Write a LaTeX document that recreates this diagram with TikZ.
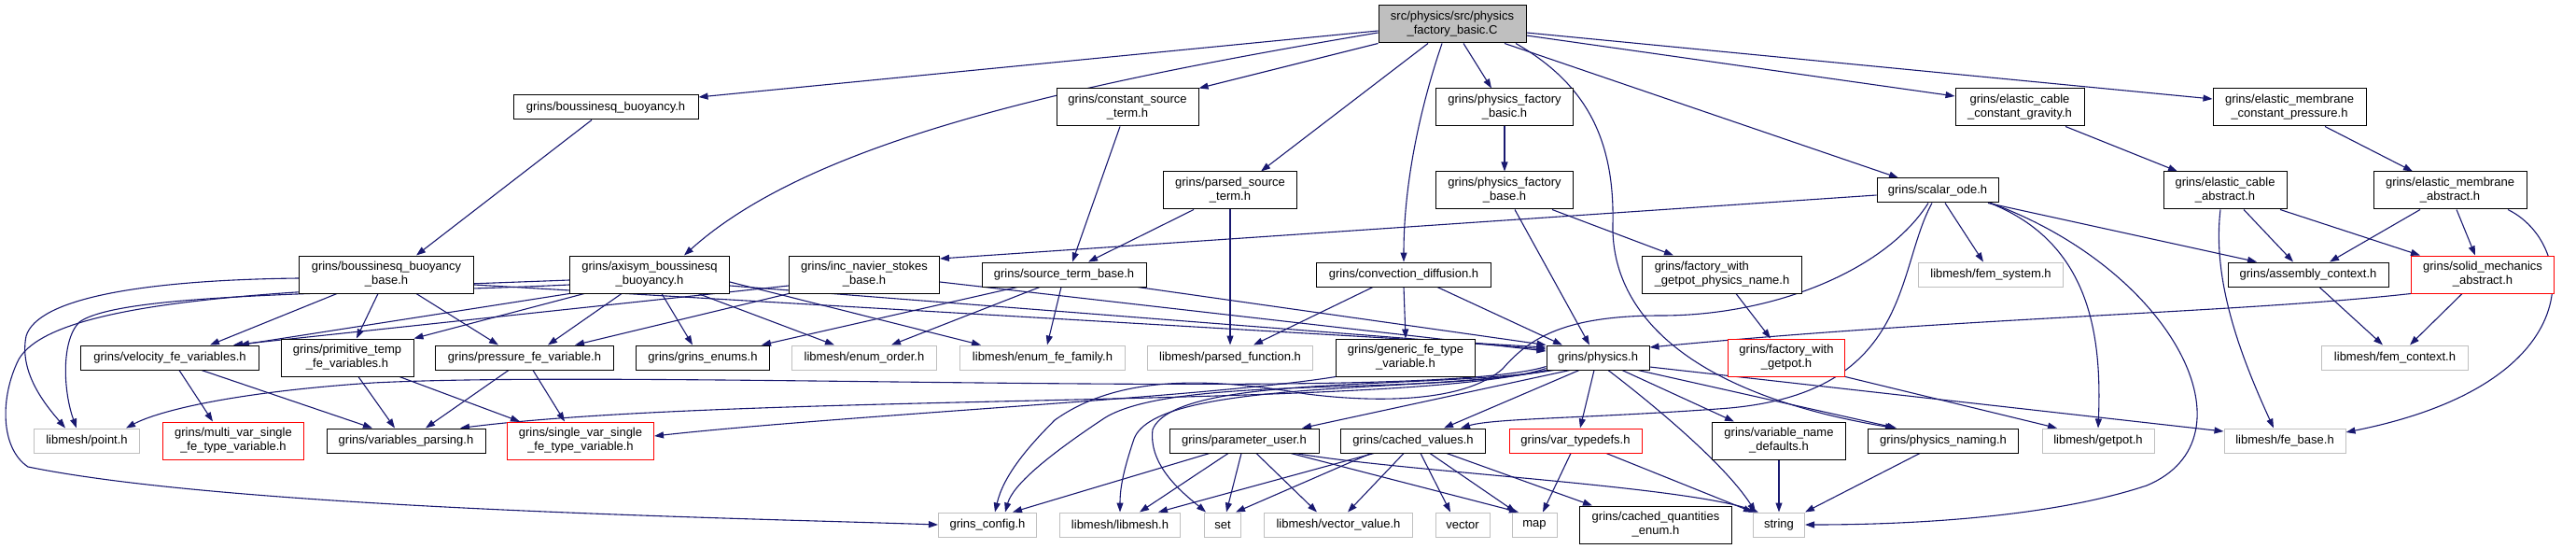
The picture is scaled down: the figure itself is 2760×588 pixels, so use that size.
\documentclass[tikz,border=0pt]{standalone}
\usepackage{fontspec}
\setmainfont{Liberation Sans}
\usetikzlibrary{arrows.meta}
\definecolor{edgeblue}{RGB}{25,25,112}
\definecolor{lightgrey}{RGB}{191,191,191}
\pgfdeclarelayer{behind}
\pgfsetlayers{behind,main}

\begin{document}
\begin{tikzpicture}[x=1pt, y=-1pt,
		file/.style={draw=black, line width=1pt, fill=white, inner sep=0pt, minimum height=26pt, align=center, font=\fontsize{13}{15}\selectfont},
		twoline/.style={minimum height=40pt},
		sys/.style={draw=lightgrey},
		missing/.style={draw=red},
		main/.style={fill=lightgrey},
		dep/.style={edgeblue, line width=1.1pt, -{Triangle[length=10pt, width=7pt]}}]
		\useasboundingbox (0,0) rectangle (2760,588);

		% root file
		\node[file, twoline, main, minimum width=158pt] (root) at (1556,26) {src/physics/src/physics\\\_factory\_basic.C};

		% first row
		\node[file, minimum width=198pt] (bb) at (649,115) {grins/boussinesq\_buoyancy.h};
		\node[file, twoline, minimum width=152pt] (cst) at (1208,115) {grins/constant\_source\\\_term.h};
		\node[file, twoline, minimum width=147pt] (pfbasic) at (1612,115) {grins/physics\_factory\\\_basic.h};
		\node[file, twoline, minimum width=138pt] (ecg) at (2164,115) {grins/elastic\_cable\\\_constant\_gravity.h};
		\node[file, twoline, minimum width=164pt] (emp) at (2453,115) {grins/elastic\_membrane\\\_constant\_pressure.h};

		% second row
		\node[file, twoline, minimum width=143pt] (pst) at (1318,204) {grins/parsed\_source\\\_term.h};
		\node[file, twoline, minimum width=147pt] (pfbase) at (1612,204) {grins/physics\_factory\\\_base.h};
		\node[file, minimum width=130pt] (sode) at (2076,204) {grins/scalar\_ode.h};
		\node[file, twoline, minimum width=132pt] (eca) at (2384,204) {grins/elastic\_cable\\\_abstract.h};
		\node[file, twoline, minimum width=164pt] (ema) at (2625,204) {grins/elastic\_membrane\\\_abstract.h};

		% third row
		\node[file, twoline, minimum width=187pt] (bbb) at (414,294) {grins/boussinesq\_buoyancy\\\_base.h};
		\node[file, twoline, minimum width=171pt] (abb) at (696,294) {grins/axisym\_boussinesq\\\_buoyancy.h};
		\node[file, twoline, minimum width=161pt] (insb) at (926,294) {grins/inc\_navier\_stokes\\\_base.h};
		\node[file, minimum width=176pt] (stb) at (1140,294) {grins/source\_term\_base.h};
		\node[file, minimum width=187pt] (cd) at (1504,294) {grins/convection\_diffusion.h};
		\node[file, twoline, align=left, minimum width=171pt] (fwgpn) at (1845,294) {grins/factory\_with\\\_getpot\_physics\_name.h};
		\node[file, sys, minimum width=155pt] (femsys) at (2133,294) {libmesh/fem\_system.h};
		\node[file, minimum width=172pt] (ac) at (2473,294) {grins/assembly\_context.h};
		\node[file, twoline, missing, minimum width=153pt] (sma) at (2660,294) {grins/solid\_mechanics\\\_abstract.h};

		% fourth row
		\node[file, minimum width=191pt] (vfv) at (182,383) {grins/velocity\_fe\_variables.h};
		\node[file, twoline, minimum width=142pt] (ptfv) at (372,383) {grins/primitive\_temp\\\_fe\_variables.h};
		\node[file, minimum width=191pt] (pfv) at (562,383) {grins/pressure\_fe\_variable.h};
		\node[file, minimum width=143pt] (ge) at (753,383) {grins/grins\_enums.h};
		\node[file, sys, minimum width=155pt] (eo) at (926,383) {libmesh/enum\_order.h};
		\node[file, sys, minimum width=177pt] (eff) at (1117,383) {libmesh/enum\_fe\_family.h};
		\node[file, sys, minimum width=177pt] (pf) at (1318,383) {libmesh/parsed\_function.h};
		\node[file, twoline, minimum width=149pt] (gfv) at (1506,383) {grins/generic\_fe\_type\\\_variable.h};
		\node[file, minimum width=110pt] (phys) at (1712,383) {grins/physics.h};
		\node[file, twoline, missing, minimum width=125pt] (fwg) at (1914,383) {grins/factory\_with\\\_getpot.h};
		\node[file, sys, minimum width=157pt] (femctx) at (2566,383) {libmesh/fem\_context.h};

		% fifth row
		\node[file, sys, minimum width=113pt] (point) at (93,472) {libmesh/point.h};
		\node[file, twoline, missing, minimum width=151pt] (mvs) at (250,472) {grins/multi\_var\_single\\\_fe\_type\_variable.h};
		\node[file, minimum width=170pt] (vp) at (435,472) {grins/variables\_parsing.h};
		\node[file, twoline, missing, minimum width=157pt] (svs) at (622,472) {grins/single\_var\_single\\\_fe\_type\_variable.h};
		\node[file, minimum width=160pt] (pu) at (1333,472) {grins/parameter\_user.h};
		\node[file, minimum width=155pt] (cv) at (1514,472) {grins/cached\_values.h};
		\node[file, missing, minimum width=142pt] (vt) at (1688,472) {grins/var\_typedefs.h};
		\node[file, twoline, minimum width=143pt] (vnd) at (1906,472) {grins/variable\_name\\\_defaults.h};
		\node[file, minimum width=161pt] (pn) at (2082,472) {grins/physics\_naming.h};
		\node[file, sys, minimum width=120pt] (getpot) at (2248,472) {libmesh/getpot.h};
		\node[file, sys, minimum width=130pt] (feb) at (2448,472) {libmesh/fe\_base.h};

		% bottom row
		\node[file, sys, minimum width=105pt] (gc) at (1058,562) {grins\_config.h};
		\node[file, sys, minimum width=129pt] (lm) at (1200,562) {libmesh/libmesh.h};
		\node[file, sys, minimum width=39pt] (set) at (1310,562) {set};
		\node[file, sys, minimum width=159pt] (vv) at (1434,562) {libmesh/vector\_value.h};
		\node[file, sys, minimum width=58pt] (vec) at (1567,562) {vector};
		\node[file, sys, minimum width=48pt] (map) at (1644,562) {map};
		\node[file, twoline, minimum width=163pt] (cqe) at (1774,562) {grins/cached\_quantities\\\_enum.h};
		\node[file, sys, minimum width=55pt] (str) at (1906,562) {string};

		\begin{pgfonlayer}{behind}
		% includes of the root file
		\draw[dep] ([yshift=-7pt]root.west) -- ([yshift=11pt]bb.east);
		\draw[dep] ([yshift=-9pt]root.west) .. controls (1150,90) and (870,150) .. ([xshift=37pt]abb.north);
		\draw[dep] (root.south west) -- (cst.north east);
		\draw[dep] ([xshift=-26pt]root.south) -- ([xshift=33pt]pst.north);
		\draw[dep] ([xshift=-11pt]root.south) .. controls (1520,120) and (1504,200) .. (cd.north);
		\draw[dep] ([xshift=12pt]root.south) -- ([xshift=-14pt]pfbasic.north);
		\draw[dep] ([xshift=68pt]root.south) .. controls (1700,90) and (1730,150) .. (1728,240) .. controls (1726,330) and (1800,420) .. ([xshift=-52pt]pn.north);
		\draw[dep] ([xshift=56pt]root.south) -- ([xshift=-42pt]sode.north);
		\draw[dep] ([yshift=-12pt]root.east) -- ([yshift=12pt]ecg.west);
		\draw[dep] ([yshift=-9pt]root.east) -- ([yshift=9pt]emp.west);

		% upper rows
		\draw[dep] ([xshift=-15pt]bb.south) -- ([xshift=32pt]bbb.north);
		\draw[dep] ([xshift=-8pt]cst.south) -- ([xshift=9pt]stb.north);
		\draw[dep] ([xshift=-39pt]pst.south) -- ([xshift=26pt]stb.north);
		\draw[dep] (pst) -- (pf);
		\draw[dep] (pfbasic) -- (pfbase);
		\draw[dep] ([xshift=11pt]pfbase.south) -- ([xshift=-9pt]phys.north);
		\draw[dep] ([xshift=51pt]pfbase.south) -- ([xshift=-52pt]fwgpn.north);
		\draw[dep] ([xshift=15pt]fwgpn.south) -- ([xshift=-17pt]fwg.north);
		\draw[dep] (fwg.south east) -- ([xshift=-44pt]getpot.north);
		\draw[dep] ([xshift=49pt]ecg.south) -- ([xshift=-51pt]eca.north);
		\draw[dep] ([xshift=38pt]emp.south) -- ([xshift=-40pt]ema.north);
		\draw[dep] ([xshift=20pt]eca.south) -- ([xshift=-16pt]ac.north);
		\draw[dep] ([xshift=59pt]eca.south) -- ([xshift=-67pt]sma.north);
		\draw[dep] ([xshift=-5pt]eca.south) .. controls (2370,300) and (2400,380) .. ([xshift=-12pt]feb.north);
		\draw[dep] ([xshift=-32pt]ema.south) -- ([xshift=23pt]ac.north);
		\draw[dep] ([xshift=7pt]ema.south) -- ([xshift=-8pt]sma.north);
		\draw[dep] ([xshift=62pt]ema.south) .. controls (2760,260) and (2780,410) .. ([yshift=9pt]feb.east);
		\draw[dep] ([xshift=12pt]ac.south) -- ([xshift=-13pt]femctx.north);
		\draw[dep] ([xshift=-22pt]sma.south) -- ([xshift=16pt]femctx.north);
		\draw[dep] (sma.south west) .. controls (2400,335) and (2100,340) .. ([yshift=11pt]phys.east);

		% scalar ode
		\draw[dep] ([yshift=-5pt]sode.west) -- ([yshift=17pt]insb.east);
		\draw[dep] ([xshift=8pt]sode.south) -- ([xshift=-8pt]femsys.north);
		\draw[dep] ([xshift=54pt]sode.south) -- ([xshift=-55pt]ac.north);
		\draw[dep] ([xshift=56pt]sode.south) .. controls (2240,260) and (2252,360) .. (getpot.north);
		\draw[dep] ([xshift=57pt]sode.south) .. controls (2330,290) and (2420,470) .. (2300,520) .. controls (2180,560) and (2000,562) .. (str.east);
		\draw[dep] ([xshift=-6pt]sode.south) .. controls (2030,290) and (2050,425) .. (1840,438) .. controls (1700,448) and (1600,448) .. ([xshift=51pt]cv.north);
		\draw[dep] ([xshift=-10pt]sode.south) .. controls (2020,290) and (1900,338) .. (1780,338) .. controls (1680,338) and (1640,360) .. (1610,395) .. controls (1570,430) and (1480,432) .. (1400,422) .. controls (1300,405) and (1200,400) .. (1130,450) .. controls (1100,480) and (1075,510) .. ([xshift=8pt]gc.north);

		% buoyancy and navier stokes
		\draw[dep] ([yshift=-4pt]bbb.west) .. controls (150,300) and (40,320) .. (28,360) .. controls (20,400) and (50,435) .. ([xshift=-23pt]point.north);
		\draw[dep] ([xshift=-53pt]bbb.south) -- ([xshift=43pt]vfv.north);
		\draw[dep] ([xshift=-9pt]bbb.south) -- ([xshift=10pt]ptfv.north);
		\draw[dep] ([xshift=32pt]bbb.south) -- ([xshift=-28pt]pfv.north);
		\draw[dep] ([yshift=-11pt]bbb.east) -- ([yshift=11pt]phys.west);
		\draw[dep] ([yshift=-6pt]abb.west) .. controls (350,310) and (60,315) .. (20,385) .. controls (0,425) and (0,480) .. (30,500) .. controls (250,545) and (800,555) .. (gc.west);
		\draw[dep] ([yshift=-11pt]abb.west) .. controls (400,315) and (130,312) .. (85,345) .. controls (65,365) and (68,420) .. ([xshift=-11pt]point.north);
		\draw[dep] (abb.south west) -- ([xshift=75pt]vfv.north);
		\draw[dep] ([xshift=-70pt]abb.south) -- (ptfv.north east);
		\draw[dep] ([xshift=-30pt]abb.south) -- ([xshift=25pt]pfv.north);
		\draw[dep] ([xshift=13pt]abb.south) -- ([xshift=-11pt]ge.north);
		\draw[dep] ([xshift=52pt]abb.south) -- ([xshift=-32pt]eo.north);
		\draw[dep] ([yshift=-8pt]abb.east) -- ([xshift=-66pt]eff.north);
		\draw[dep] ([yshift=-12pt]abb.east) -- ([yshift=9pt]phys.west);
		\draw[dep] ([yshift=-12pt]insb.west) -- ([xshift=68pt]vfv.north);
		\draw[dep] (insb.south west) -- ([xshift=54pt]pfv.north);
		\draw[dep] ([yshift=-8pt]insb.east) -- ([yshift=7pt]phys.west);

		% source terms and convection
		\draw[dep] ([xshift=-50pt]stb.south) -- ([xshift=63pt]ge.north);
		\draw[dep] ([xshift=-26pt]stb.south) -- ([xshift=29pt]eo.north);
		\draw[dep] ([xshift=-3pt]stb.south) -- ([xshift=5pt]eff.north);
		\draw[dep] ([xshift=79pt]stb.south) -- (phys.north west);
		\draw[dep] (cd.south) -- (gfv.north);
		\draw[dep] ([xshift=-33pt]cd.south) -- ([xshift=25pt]pf.north);
		\draw[dep] ([xshift=36pt]cd.south) -- ([xshift=-38pt]phys.north);
		\draw[dep] (gfv.south west) .. controls (1300,425) and (900,445) .. ([yshift=5pt]svs.east);

		% physics.h
		\draw[dep] ([yshift=4pt]phys.south west) .. controls (1530,432) and (700,395) .. (400,410) .. controls (250,420) and (170,440) .. ([xshift=42pt]point.north);
		\draw[dep] ([yshift=2pt]phys.south west) .. controls (1530,438) and (800,420) .. ([xshift=58pt]vp.north);
		\draw[dep] (phys.south west) .. controls (1530,425) and (1250,400) .. (1180,450) .. controls (1120,490) and (1085,520) .. ([xshift=19pt]gc.north);
		\draw[dep] ([xshift=4pt]phys.south west) .. controls (1530,422) and (1240,405) .. (1215,470) .. controls (1205,500) and (1200,520) .. (lm.north);
		\draw[dep] ([xshift=8pt]phys.south west) .. controls (1530,418) and (1260,400) .. (1235,460) .. controls (1230,500) and (1270,530) .. ([xshift=-18pt]set.north);
		\draw[dep] ([xshift=-30pt]phys.south) -- ([xshift=62pt]pu.north);
		\draw[dep] ([xshift=-20pt]phys.south) -- ([xshift=33pt]cv.north);
		\draw[dep] ([xshift=-4pt]phys.south) -- ([xshift=5pt]vt.north);
		\draw[dep] ([xshift=11pt]phys.south) .. controls (1780,440) and (1850,500) .. ([xshift=-25pt]str.north);
		\draw[dep] ([xshift=26pt]phys.south) -- ([xshift=-48pt]vnd.north);
		\draw[dep] ([xshift=43pt]phys.south) -- ([xshift=-50pt]pn.north);
		\draw[dep] ([yshift=-10pt]phys.east) -- ([yshift=10pt]feb.west);

		% parameter user, cached values, typedefs
		\draw[dep] ([xshift=-37pt]pu.south) -- ([xshift=27pt]gc.north);
		\draw[dep] ([xshift=-17pt]pu.south) -- ([xshift=21pt]lm.north);
		\draw[dep] ([xshift=-3pt]pu.south) -- ([xshift=4pt]set.north);
		\draw[dep] ([xshift=13pt]pu.south) -- ([xshift=-23pt]vv.north);
		\draw[dep] ([xshift=50pt]pu.south) -- ([xshift=-17pt]map.north);
		\draw[dep] ([xshift=55pt]pu.south) .. controls (1500,505) and (1800,520) .. ([xshift=-22pt]str.north);
		\draw[dep] ([xshift=-42pt]cv.south) -- ([xshift=41pt]lm.north);
		\draw[dep] ([xshift=-45pt]cv.south) -- ([xshift=14pt]set.north);
		\draw[dep] ([xshift=-10pt]cv.south) -- ([xshift=10pt]vv.north);
		\draw[dep] ([xshift=8pt]cv.south) -- ([xshift=-13pt]vec.north);
		\draw[dep] ([xshift=18pt]cv.south) -- ([xshift=-20pt]map.north);
		\draw[dep] ([xshift=36pt]cv.south) -- ([xshift=-68pt]cqe.north);
		\draw[dep] ([xshift=-5pt]vt.south) -- ([xshift=9pt]map.north);
		\draw[dep] ([xshift=33pt]vt.south) -- ([xshift=-28pt]str.north);
		\draw[dep] (vnd) -- (str);
		\draw[dep] ([xshift=-25pt]pn.south) -- (str.north east);

		% variables
		\draw[dep] ([xshift=10pt]vfv.south) -- ([xshift=-22pt]mvs.north);
		\draw[dep] ([xshift=34pt]vfv.south) -- ([xshift=-36pt]vp.north);
		\draw[dep] ([xshift=12pt]ptfv.south) -- ([xshift=-12pt]vp.north);
		\draw[dep] ([xshift=56pt]ptfv.south) -- ([xshift=-65pt]svs.north);
		\draw[dep] ([xshift=-17pt]pfv.south) -- ([xshift=21pt]vp.north);
		\draw[dep] ([xshift=9pt]pfv.south) -- ([xshift=-17pt]svs.north);
		\end{pgfonlayer}
	\end{tikzpicture}
\end{document}
